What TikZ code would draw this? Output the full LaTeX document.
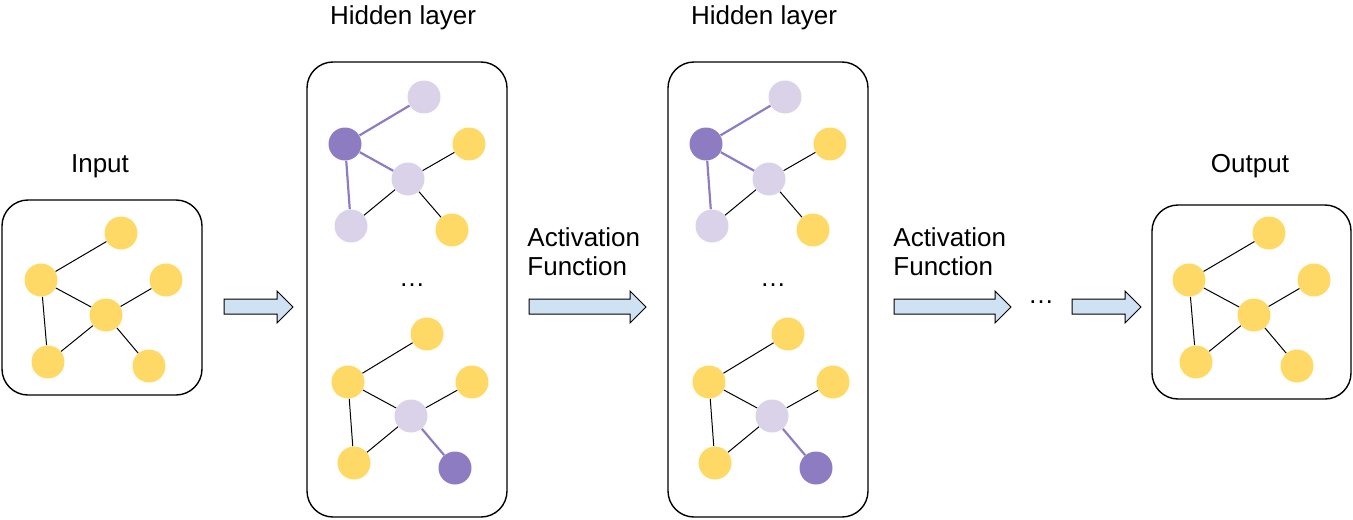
\documentclass[tikz,border=0pt]{standalone}
\usepackage{fontspec}
\setmainfont{Liberation Sans}
\definecolor{gold}{HTML}{FFD966}
\definecolor{lilac}{HTML}{D9D2E9}
\definecolor{violet}{HTML}{8E7CC3}
\definecolor{skyfill}{HTML}{CFE2F3}
\begin{document}
\begin{tikzpicture}[x=0.5pt,y=-0.5pt,
    vertex/.style={circle,minimum size=16.5pt,inner sep=0pt},
    box/.style={draw,line width=0.7pt,rounded corners=13pt},
    link/.style={line width=0.5pt},
    hotlink/.style={draw=violet,line width=1.1pt},
    flow/.style={draw,line width=0.5pt,fill=skyfill},
    headtxt/.style={font=\fontsize{13pt}{14.5pt}\selectfont}]
    \useasboundingbox (0,0) rectangle (1353,519);
    %% Boxes
    \draw[box] (2,200) rectangle (202,395);
    \draw[box] (307,62) rectangle (507,517);
    \draw[box] (668,62) rectangle (868,517);
    \draw[box] (1152,205) rectangle (1351,399);
    %% Titles
    \node[headtxt] (inlbl) at (100,166) {Input};
    \node[headtxt] (outlbl) at (1250,166) {Output};
    \node[headtxt] (hidlbla) at (403,18) {Hidden layer};
    \node[headtxt] (hidlblb) at (764,18) {Hidden layer};
    \node[headtxt,align=left,inner sep=0pt,anchor=north west] (acta) at (527,227) {Activation\\Function};
    \node[headtxt,align=left,inner sep=0pt,anchor=north west] (actb) at (893,227) {Activation\\Function};
    %% Input and output graphs
    \foreach \dx/\g in {0/in,1148/out}{
        \begin{scope}[shift={(\dx,0)}]
            \node[vertex,fill=gold] (\g-t) at (121,233) {};
            \node[vertex,fill=gold] (\g-l) at (41,280) {};
            \node[vertex,fill=gold] (\g-r) at (166,280) {};
            \node[vertex,fill=gold] (\g-c) at (106,315) {};
            \node[vertex,fill=gold] (\g-bl) at (48,362) {};
            \node[vertex,fill=gold] (\g-br) at (149,366) {};
            \draw[link] (\g-t) -- (\g-l) -- (\g-c) -- (\g-r);
            \draw[link] (\g-l) -- (\g-bl) -- (\g-c) -- (\g-br);
        \end{scope}
    }
    %% Hidden layers
    \foreach \dx/\h in {0/a,361/b}{
        \begin{scope}[shift={(\dx,0)}]
            %% upper graph
            \node[vertex,fill=lilac] (\h-ut) at (424,97) {};
            \node[vertex,fill=violet] (\h-ul) at (345,144) {};
            \node[vertex,fill=gold] (\h-ur) at (469,144) {};
            \node[vertex,fill=lilac] (\h-uc) at (408,179) {};
            \node[vertex,fill=lilac] (\h-ubl) at (351,226) {};
            \node[vertex,fill=gold] (\h-ubr) at (452,230) {};
            \draw[hotlink] (\h-ut) -- (\h-ul) -- (\h-uc);
            \draw[hotlink] (\h-ul) -- (\h-ubl);
            \draw[link] (\h-ubl) -- (\h-uc) -- (\h-ur);
            \draw[link] (\h-uc) -- (\h-ubr);
            \node[headtxt] (\h-dots) at (412,285) {…};
            %% lower graph
            \node[vertex,fill=gold] (\h-lt) at (427,334) {};
            \node[vertex,fill=gold] (\h-ll) at (348,382) {};
            \node[vertex,fill=gold] (\h-lr) at (472,382) {};
            \node[vertex,fill=lilac] (\h-lc) at (411,416) {};
            \node[vertex,fill=gold] (\h-lbl) at (354,463) {};
            \node[vertex,fill=violet] (\h-lbr) at (455,468) {};
            \draw[link] (\h-lt) -- (\h-ll) -- (\h-lc) -- (\h-lr);
            \draw[link] (\h-ll) -- (\h-lbl) -- (\h-lc);
            \draw[hotlink] (\h-lc) -- (\h-lbr);
        \end{scope}
    }
    %% Arrows
    \foreach \a/\b in {224/293,529/646,894/1011,1072/1141}
        \draw[flow] (\a,299) -- (\b-16,299) -- (\b-16,291) -- (\b,307) -- (\b-16,323) -- (\b-16,314) -- (\a,314) -- cycle;
    \node[headtxt] (skip) at (1041,302) {…};
\end{tikzpicture}
\end{document}
